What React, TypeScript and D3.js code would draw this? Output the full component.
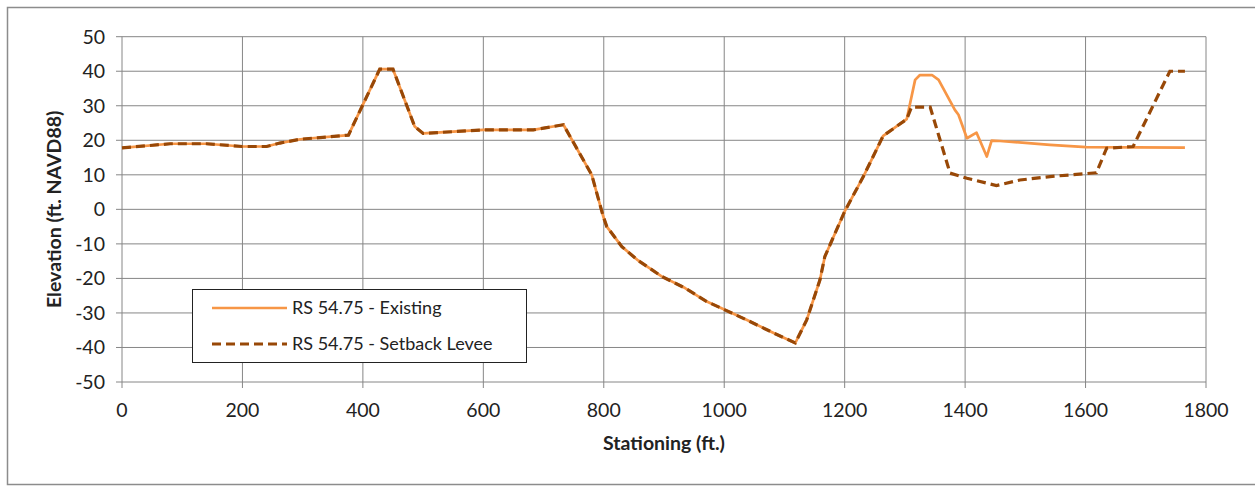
import React from "react";
import * as d3 from "d3";

const xTicks = [0, 200, 400, 600, 800, 1000, 1200, 1400, 1600, 1800];
const yTicks = [-50, -40, -30, -20, -10, 0, 10, 20, 30, 40, 50];

const existingStation = [0, 80, 140, 200, 240, 262, 296, 376, 428, 450, 486, 500, 600, 683, 733, 780, 799, 805, 830, 857, 896, 935, 971, 1001, 1037, 1082, 1118, 1137, 1159, 1167, 1200, 1231, 1264, 1303, 1317, 1325, 1345, 1356, 1383, 1389, 1403, 1419, 1436, 1444, 1458, 1541, 1601, 1765];
const existingElevation = [17.8, 19, 19, 18.2, 18.2, 19.2, 20.3, 21.5, 40.6, 40.6, 24, 22, 23, 23, 24.5, 10, -2, -5, -10.8, -14.8, -19.4, -22.8, -26.7, -29.1, -32, -35.8, -38.7, -32, -20.4, -13.7, -0.6, 9.5, 21.3, 26.1, 37.5, 38.9, 38.9, 37.5, 28.8, 27.4, 20.6, 22.2, 15.3, 19.9, 19.8, 18.7, 18, 17.9];

const setbackStation = [0, 80, 140, 200, 240, 262, 296, 376, 428, 450, 486, 500, 600, 683, 733, 780, 799, 805, 830, 857, 896, 935, 971, 1001, 1037, 1082, 1118, 1137, 1159, 1167, 1200, 1231, 1264, 1303, 1311, 1342, 1375, 1403, 1452, 1491, 1541, 1618, 1635, 1679, 1740, 1765];
const setbackElevation = [17.8, 19, 19, 18.2, 18.2, 19.2, 20.3, 21.5, 40.6, 40.6, 24, 22, 23, 23, 24.5, 10, -2, -5, -10.8, -14.8, -19.4, -22.8, -26.7, -29.1, -32, -35.8, -38.7, -32, -20.4, -13.7, -0.6, 9.5, 21.3, 26.1, 29.6, 29.6, 10.5, 9, 6.9, 8.5, 9.5, 10.6, 17.7, 18.2, 40, 40];

const seriesNames = ["RS 54.75 - Existing", "RS 54.75 - Setback Levee"];

const FONT = "Lato, 'Open Sans', sans-serif";
const EXIST_COLOR = "#F79646";
const SETBACK_COLOR = "#984807";
const GRID = "#868686";

export default function App() {
  const W = 1255, H = 487;
  const x = d3.scaleLinear().domain([0, 1800]).range([122, 1206]);
  const y = d3.scaleLinear().domain([-50, 50]).range([382, 36.7]);
  const line = d3.line<[number, number]>().x(d => x(d[0])).y(d => y(d[1]));
  const exPts: [number, number][] = existingStation.map((s, i) => [s, existingElevation[i]]);
  const sbPts: [number, number][] = setbackStation.map((s, i) => [s, setbackElevation[i]]);

  return (
    <svg width={W} height={H} style={{ position: "absolute", left: 0, top: 0, background: "#fff" }} fontFamily={FONT}>
      <rect x={7.5} y={7.5} width={1260} height={477} fill="#fff" stroke="#8c8c8c" strokeWidth={1.5} />
      {/* gridlines */}
      {yTicks.map(t => (
        <line key={"gy" + t} x1={x(0) - 6} x2={x(1800)} y1={y(t)} y2={y(t)} stroke={GRID} strokeWidth={1} />
      ))}
      {xTicks.map(t => (
        <line key={"gx" + t} x1={x(t)} x2={x(t)} y1={y(50)} y2={y(-50) + 6} stroke={GRID} strokeWidth={1} />
      ))}
      {/* tick labels */}
      {yTicks.map(t => (
        <text key={"ty" + t} x={105} y={y(t)} dy="0.35em" textAnchor="end" fontSize={19.5} fill="#222">{t}</text>
      ))}
      {xTicks.map(t => (
        <text key={"tx" + t} x={x(t)} y={417} textAnchor="middle" fontSize={19.5} fill="#222">{t}</text>
      ))}
      {/* axis titles */}
      <text x={664} y={450} textAnchor="middle" fontSize={19.5} fontWeight="bold" fill="#222">Stationing (ft.)</text>
      <text transform={`translate(61,${(y(50) + y(-50)) / 2}) rotate(-90)`} textAnchor="middle" fontSize={19.5} fontWeight="bold" fill="#222">Elevation (ft. NAVD88)</text>
      {/* series */}
      <path d={line(exPts) || ""} fill="none" stroke={EXIST_COLOR} strokeWidth={2.7} strokeLinejoin="round" />
      <path d={line(sbPts) || ""} fill="none" stroke={SETBACK_COLOR} strokeWidth={3.2} strokeDasharray="9,5" />
      {/* legend */}
      <rect x={192.5} y={289.5} width={334} height={73} fill="#fff" stroke="#222" strokeWidth={1} />
      <line x1={212} x2={287} y1={308} y2={308} stroke={EXIST_COLOR} strokeWidth={2.7} />
      <line x1={212} x2={287} y1={344} y2={344} stroke={SETBACK_COLOR} strokeWidth={3.2} strokeDasharray="9,5" />
      <text x={292} y={308} dy="0.35em" fontSize={18} fill="#222">{seriesNames[0]}</text>
      <text x={292} y={344} dy="0.35em" fontSize={18} fill="#222">{seriesNames[1]}</text>
    </svg>
  );
}
